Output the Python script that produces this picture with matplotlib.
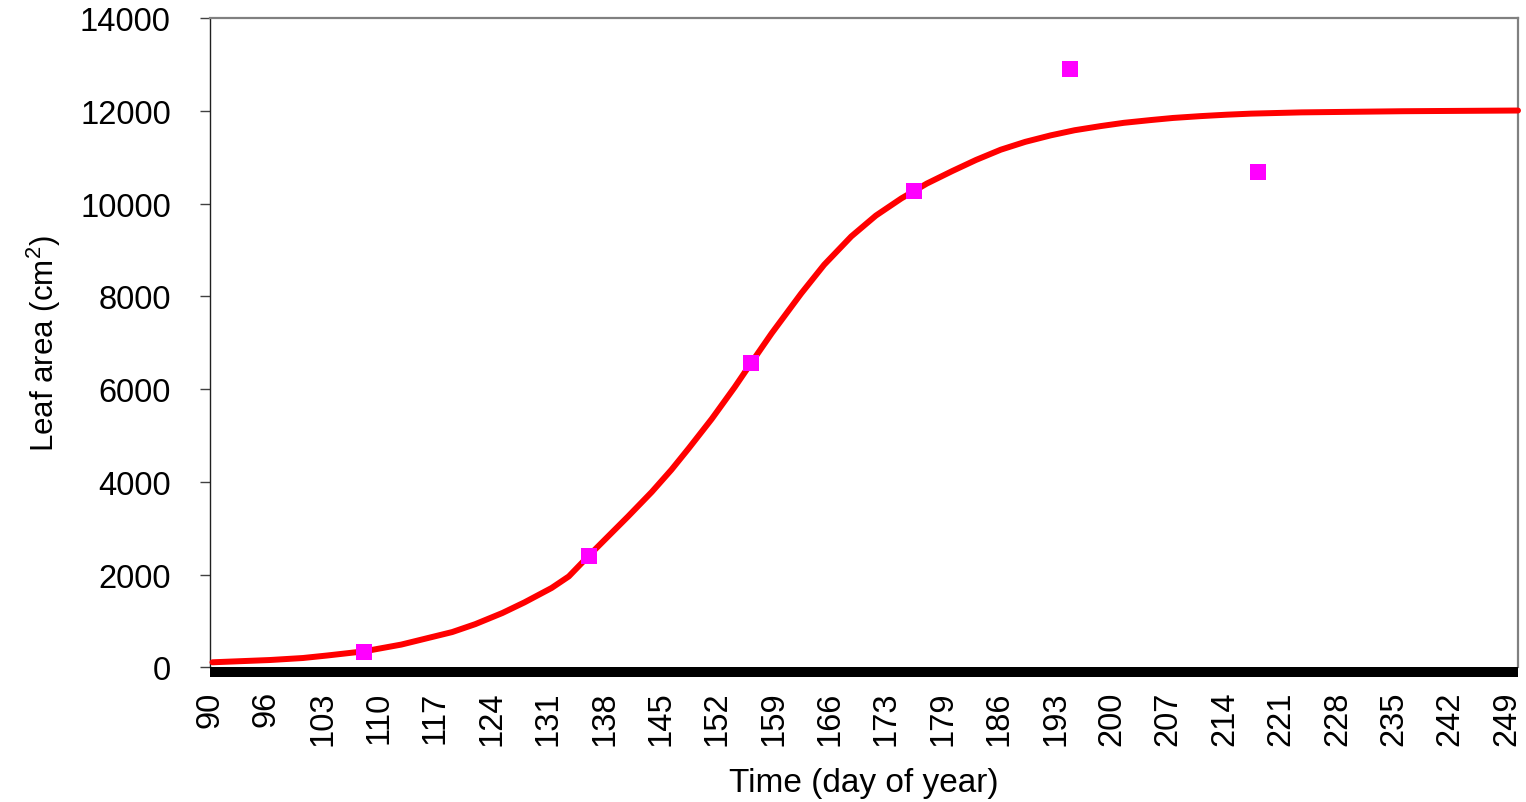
import matplotlib
matplotlib.use("Agg")
import matplotlib.pyplot as plt
import numpy as np

plt.rcParams['font.family'] = ['Liberation Sans', 'DejaVu Sans']
plt.rcParams['mathtext.fontset'] = 'custom'
plt.rcParams['mathtext.rm'] = 'Liberation Sans'
plt.rcParams['mathtext.it'] = 'Liberation Sans'

# Fitted curve
curve_days = [90, 97, 101, 104, 108.5, 113, 119.2, 122, 125.3, 128, 131.3, 133.4,
              135.8, 138, 140.6, 143.5, 145.9, 148, 150.8, 153.6, 155.6, 158.1,
              161.7, 164.5, 167.8, 170.8, 173.9, 177, 180.1, 183, 186, 189,
              192.1, 195, 198.2, 201, 204.3, 207, 210.4, 213.5, 216.5, 222.6,
              235, 249]
curve_area = [108, 157, 200, 255, 345, 490, 760, 930, 1170, 1400, 1710, 1960,
              2400, 2790, 3250, 3780, 4260, 4720, 5354, 6040, 6560, 7200,
              8060, 8680, 9290, 9740, 10110, 10430, 10700, 10940, 11160, 11330,
              11470, 11580, 11670, 11740, 11800, 11845, 11885, 11915, 11938, 11965,
              11990, 12005]

# Observed points
obs_days = [108.5, 135.8, 155.6, 175.5, 194.4, 217.3]
obs_area = [330, 2400, 6560, 10260, 12890, 10680]

# Axis ticks
x_tick_labels = ["90", "96", "103", "110", "117", "124", "131", "138", "145",
                 "152", "159", "166", "173", "179", "186", "193", "200", "207",
                 "214", "221", "228", "235", "242", "249"]
y_ticks = [0, 2000, 4000, 6000, 8000, 10000, 12000, 14000]

fig = plt.figure(figsize=(15.26, 8.03), dpi=100)
ax = fig.add_axes([210/1526, 1 - 668.3/803, (1518 - 210)/1526, (668.3 - 19)/803])

# spine setup first (set_position resets tick properties)
for s in ['top', 'right']:
    ax.spines[s].set_color('#808080')
    ax.spines[s].set_linewidth(1.6)
ax.spines['left'].set_color('#202020')
ax.spines['left'].set_linewidth(1.0)
ax.spines['bottom'].set_position(('outward', 3.6))
ax.spines['bottom'].set_color('black')
ax.spines['bottom'].set_linewidth(7.2)
ax.spines['bottom'].set_capstyle('butt')

ax.plot(curve_days, curve_area, color='#FF0000', lw=4.3, solid_capstyle='round',
        solid_joinstyle='round', zorder=3, clip_on=False)
ax.plot(obs_days, obs_area, linestyle='none', marker='s', markersize=12,
        color='#FF00FF', markeredgewidth=0, zorder=4, clip_on=False)

ax.set_xlim(90, 249)
ax.set_ylim(0, 14000)
# category-style label positions (labels sit slightly left of the even spacing)
ax.set_xticks(np.linspace(89.7, 247.6, len(x_tick_labels)))
ax.set_xticklabels(x_tick_labels, rotation=90, fontsize=23.5, va='top')
ax.set_yticks(y_ticks)
ax.set_yticklabels([str(v) for v in y_ticks], fontsize=23.5)

ax.tick_params(axis='x', length=0, pad=13)
ax.tick_params(axis='y', length=7.2, width=1.0, color='#404040', pad=21)

ax.set_xlabel('Time (day of year)', fontsize=24, labelpad=16)
ax.set_ylabel('Leaf area (cm$^2$)', fontsize=22.5, labelpad=12)

fig.savefig('out.png', dpi=100, facecolor='white')
